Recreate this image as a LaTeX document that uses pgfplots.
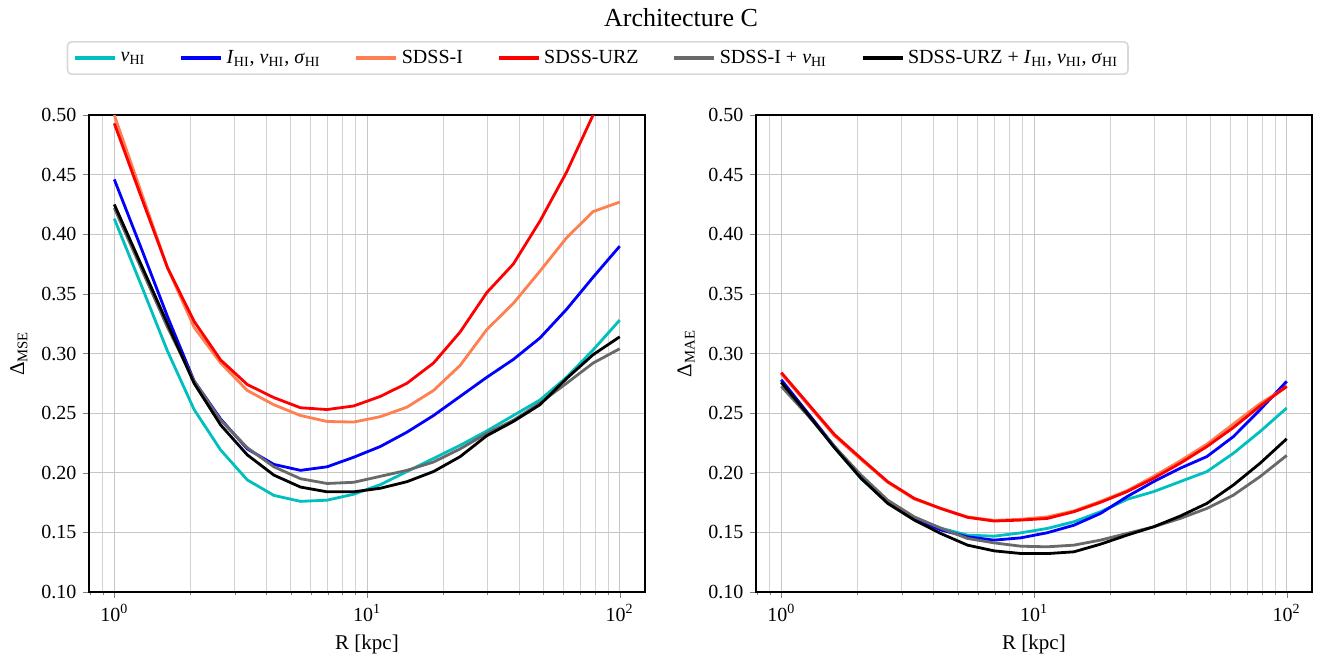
\documentclass[border=0pt]{standalone}
\usepackage{pgfplots}
\usepackage{pgfplotstable}
\pgfplotsset{compat=1.18}
\usepackage{fontspec}
\setmainfont{Liberation Serif}
\definecolor{ccyan}{rgb}{0,0.75,0.75}
\definecolor{ccoral}{RGB}{255,127,80}
\definecolor{cgray}{RGB}{105,105,105}

\pgfplotstableread{
R       c      b      o      r      g      k
1       0.413  0.446  0.500  0.493  0.422  0.425
1.2743  0.358  0.389  0.436  0.432  0.372  0.375
1.6238  0.302  0.331  0.372  0.372  0.322  0.325
2.0691  0.253  0.277  0.322  0.327  0.277  0.275
2.6367  0.219  0.245  0.292  0.2945 0.244  0.240
3.3598  0.194  0.220  0.269  0.274  0.221  0.215
4.2813  0.181  0.207  0.257  0.263  0.205  0.198
5.4556  0.176  0.202  0.248  0.2545 0.195  0.188
6.9519  0.177  0.205  0.243  0.253  0.191  0.184
8.8587  0.182  0.213  0.2425 0.256  0.192  0.184
11.288  0.190  0.222  0.247  0.264  0.197  0.187
14.384  0.201  0.234  0.255  0.275  0.202  0.1925
18.330  0.212  0.248  0.269  0.292  0.209  0.201
23.357  0.223  0.264  0.290  0.318  0.220  0.2135
29.764  0.235  0.280  0.320  0.351  0.233  0.231
37.927  0.248  0.295  0.342  0.375  0.244  0.243
48.329  0.261  0.313  0.369  0.411  0.2585 0.257
61.585  0.280  0.337  0.397  0.452  0.275  0.279
78.476  0.303  0.364  0.419  0.500  0.292  0.299
100     0.328  0.390  0.427  0.560  0.304  0.314
}\mse

\pgfplotstableread{
R       c      b      o      r      g      k
1       0.277  0.278  0.283  0.284  0.2724 0.2758
1.2743  0.249  0.250  0.257  0.258  0.248  0.249
1.6238  0.221  0.222  0.231  0.232  0.222  0.221
2.0691  0.195  0.1955 0.211  0.212  0.198  0.1954
2.6367  0.175  0.175  0.192  0.1925 0.177  0.1743
3.3598  0.162  0.162  0.178  0.1785 0.163  0.1603
4.2813  0.1535 0.152  0.170  0.170  0.1535 0.149
5.4556  0.1477 0.1463 0.163  0.1626 0.1449 0.1393
6.9519  0.1468 0.1435 0.160  0.1595 0.1412 0.1345
8.8587  0.1496 0.1454 0.161  0.1603 0.1384 0.1323
11.288  0.1533 0.1497 0.163  0.1617 0.1379 0.1322
14.384  0.1589 0.156  0.168  0.1673 0.1393 0.1337
18.330  0.1673 0.1659 0.176  0.1752 0.1435 0.1401
23.357  0.1777 0.180  0.185  0.1842 0.1491 0.1477
29.764  0.1842 0.1926 0.197  0.1954 0.1547 0.1547
37.927  0.1926 0.2038 0.210  0.208  0.1617 0.1637
48.329  0.201  0.2136 0.224  0.222  0.1701 0.1743
61.585  0.2164 0.2304 0.241  0.238  0.1813 0.1898
78.476  0.2346 0.2529 0.258  0.256  0.1968 0.208
100     0.2543 0.2767 0.272  0.2725 0.2145 0.2285
}\mae

\pgfplotsset{
  every axis/.append style={
    scale only axis, width=278pt, height=238.5pt,
    xmin=0.7943, xmax=125.89, ymin=0.1, ymax=0.5,
    ytick={0.10,0.15,0.20,0.25,0.30,0.35,0.40,0.45,0.50},
    scaled y ticks=false,
    yticklabel style={/pgf/number format/fixed, /pgf/number format/fixed zerofill, /pgf/number format/precision=2, /pgf/number format/assume math mode=true},
    xtick={1,10,100},
    xticklabels={10\textsuperscript{0},10\textsuperscript{1},10\textsuperscript{2}},
    minor xtick={0.8,0.9,2,3,4,5,6,7,8,9,20,30,40,50,60,70,80,90},
    grid=both,
    major grid style={gray!45, line width=0.5pt},
    minor grid style={gray!35, line width=0.5pt},
    tick align=outside, tickpos=left,
    major tick length=2.8pt, minor tick length=1.6pt,
    axis line style={line width=0.8pt},
    tick label style={font=\fontsize{10}{12}\selectfont},
    label style={font=\fontsize{10.5}{12}\selectfont},
    xlabel={R [kpc]},
  },
  every axis plot/.append style={line width=1.4pt, mark=none},
}

\begin{document}
\begin{tikzpicture}
\useasboundingbox (0,0) rectangle (665pt,332.5pt);
\node[anchor=base, font=\fontsize{13}{15}\selectfont] at (340.5pt,319pt) {Architecture C};

\begin{semilogxaxis}[at={(44.5pt,36.5pt)}, anchor=south west,
  ylabel={Δ\textsubscript{MSE}},
  legend columns=6, legend cell align=left,
  legend image code/.code={\draw[#1, line width=1.6pt] (0pt,0pt) -- (20pt,0pt);},
  legend style={at={(0.915,1.1195)}, anchor=center, draw=gray!30, line width=0.8pt,
    rounded corners=2pt, font=\fontsize{10}{12}\selectfont,
    /tikz/every even column/.append style={column sep=15pt}}]
\addplot[ccyan] table[x=R,y=c]{\mse};
\addlegendentry{\textit{v}\textsubscript{HI}}
\addplot[blue] table[x=R,y=b]{\mse};
\addlegendentry{\textit{I}\textsubscript{HI}, \textit{v}\textsubscript{HI}, \textit{σ}\textsubscript{HI}}
\addplot[ccoral] table[x=R,y=o]{\mse};
\addlegendentry{SDSS-I}
\addplot[red] table[x=R,y=r]{\mse};
\addlegendentry{SDSS-URZ}
\addplot[cgray] table[x=R,y=g]{\mse};
\addlegendentry{SDSS-I + \textit{v}\textsubscript{HI}}
\addplot[black] table[x=R,y=k]{\mse};
\addlegendentry{SDSS-URZ + \textit{I}\textsubscript{HI}, \textit{v}\textsubscript{HI}, \textit{σ}\textsubscript{HI}}
\end{semilogxaxis}

\begin{semilogxaxis}[at={(378pt,36.5pt)}, anchor=south west,
  ylabel={Δ\textsubscript{MAE}}]
\addplot[ccyan] table[x=R,y=c]{\mae};
\addplot[blue] table[x=R,y=b]{\mae};
\addplot[ccoral] table[x=R,y=o]{\mae};
\addplot[red] table[x=R,y=r]{\mae};
\addplot[cgray] table[x=R,y=g]{\mae};
\addplot[black] table[x=R,y=k]{\mae};
\end{semilogxaxis}
\end{tikzpicture}
\end{document}
